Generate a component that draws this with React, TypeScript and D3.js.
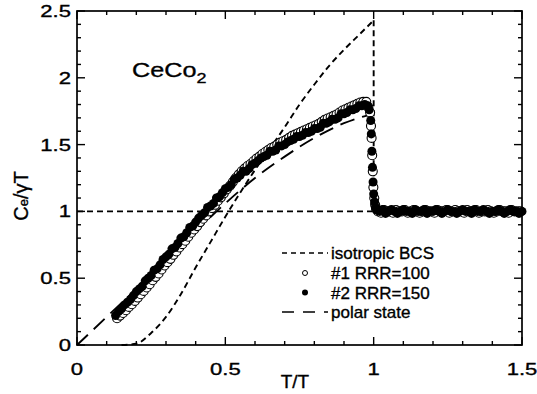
import React from "react";
import * as d3 from "d3";

// ---------- data ----------
// isotropic BCS curve  [T/Tc, Ce/γT]
const bcsCurve: [number, number][] = [
  [0.15, 0.0], [0.2, 0.01], [0.25, 0.09], [0.3, 0.21], [0.35, 0.38], [0.4, 0.58],
  [0.45, 0.77], [0.5, 0.96], [0.55, 1.14], [0.6, 1.31], [0.65, 1.47], [0.7, 1.63],
  [0.75, 1.8], [0.8, 1.95], [0.85, 2.09], [0.9, 2.21], [0.95, 2.32], [1.0, 2.43],
];
const bcsJump: [number, number][] = [[1.0, 2.43], [1.0, 1.0]];
const normalLine: [number, number][] = [[0, 1.0], [1.5, 1.0]];

// polar state curve
const polarCurve: [number, number][] = [
  [0, 0], [0.1, 0.21], [0.2, 0.42], [0.3, 0.63], [0.4, 0.85], [0.5, 1.06],
  [0.6, 1.25], [0.7, 1.41], [0.8, 1.55], [0.9, 1.66], [0.95, 1.7], [1.0, 1.73],
];

// #2 RRR=150 (filled)
const sample2: [number, number][] = [
  [0.13, 0.22], [0.14, 0.25], [0.15, 0.27], [0.16, 0.3], [0.17, 0.32], [0.18, 0.34], [0.19, 0.37],
  [0.2, 0.4], [0.21, 0.42], [0.22, 0.44], [0.23, 0.48], [0.24, 0.5], [0.25, 0.52], [0.26, 0.56],
  [0.27, 0.57], [0.28, 0.6], [0.29, 0.64], [0.3, 0.66], [0.31, 0.68], [0.32, 0.72], [0.33, 0.73],
  [0.34, 0.76], [0.35, 0.8], [0.36, 0.81], [0.37, 0.84], [0.38, 0.88], [0.39, 0.89], [0.4, 0.92],
  [0.41, 0.95], [0.42, 0.97], [0.43, 0.99], [0.44, 1.03], [0.45, 1.04], [0.46, 1.06], [0.47, 1.1],
  [0.48, 1.11], [0.49, 1.14], [0.5, 1.17], [0.51, 1.18], [0.52, 1.2], [0.53, 1.24], [0.54, 1.25],
  [0.55, 1.27], [0.56, 1.3], [0.57, 1.3], [0.58, 1.32], [0.59, 1.35], [0.6, 1.36], [0.61, 1.38],
  [0.62, 1.4], [0.63, 1.41], [0.64, 1.42], [0.65, 1.45], [0.66, 1.45], [0.67, 1.46], [0.68, 1.49],
  [0.69, 1.49], [0.7, 1.5], [0.71, 1.52], [0.72, 1.53], [0.73, 1.54], [0.74, 1.56], [0.75, 1.56],
  [0.76, 1.57], [0.77, 1.59], [0.78, 1.59], [0.79, 1.6], [0.8, 1.62], [0.81, 1.62], [0.82, 1.63],
  [0.83, 1.66], [0.84, 1.66], [0.85, 1.67], [0.86, 1.69], [0.87, 1.69], [0.88, 1.7], [0.89, 1.73],
  [0.9, 1.73], [0.91, 1.74], [0.92, 1.76], [0.93, 1.76], [0.94, 1.77], [0.95, 1.79], [0.96, 1.79],
  [0.97, 1.8], [0.98, 1.79],
  [0.985, 1.76], [0.99, 1.68], [0.992, 1.58], [0.994, 1.45], [0.996, 1.33], [0.998, 1.22],
  [1.0, 1.13], [1.003, 1.07], [1.006, 1.03], [1.01, 1.01],
  [1.02, 1.0], [1.03, 1.015], [1.04, 0.985], [1.05, 1.0], [1.06, 1.015], [1.07, 1.0], [1.08, 0.985],
  [1.09, 1.0], [1.1, 1.015], [1.11, 1.0], [1.12, 1.0], [1.13, 0.985], [1.14, 1.015], [1.15, 1.0],
  [1.16, 1.0], [1.17, 1.015], [1.18, 0.985], [1.19, 1.0], [1.2, 1.0], [1.21, 1.015], [1.22, 1.0],
  [1.23, 0.985], [1.24, 1.0], [1.25, 1.015], [1.26, 1.0], [1.27, 1.0], [1.28, 0.985], [1.29, 1.0],
  [1.3, 1.015], [1.31, 1.0], [1.32, 1.0], [1.33, 0.985], [1.34, 1.015], [1.35, 1.0], [1.36, 1.0],
  [1.37, 1.015], [1.38, 1.0], [1.39, 0.985], [1.4, 1.0], [1.41, 1.0], [1.42, 1.015], [1.43, 1.0],
  [1.44, 0.985], [1.45, 1.0], [1.46, 1.015], [1.47, 1.0], [1.48, 1.0], [1.49, 0.985], [1.5, 1.0],
];

// #1 RRR=100 (open)
const sample1: [number, number][] = [
  [0.135, 0.2], [0.145, 0.22], [0.155, 0.24], [0.165, 0.26], [0.175, 0.285], [0.185, 0.305],
  [0.195, 0.33], [0.205, 0.355], [0.215, 0.38], [0.225, 0.405], [0.235, 0.43], [0.245, 0.455],
  [0.255, 0.485], [0.265, 0.51], [0.275, 0.535], [0.285, 0.565], [0.295, 0.595], [0.305, 0.62],
  [0.315, 0.645], [0.325, 0.675], [0.335, 0.7], [0.345, 0.73], [0.355, 0.755], [0.365, 0.78],
  [0.375, 0.81], [0.385, 0.84], [0.395, 0.865], [0.405, 0.89], [0.415, 0.92], [0.425, 0.945],
  [0.435, 0.97], [0.445, 1.0], [0.455, 1.025], [0.465, 1.05], [0.475, 1.08], [0.485, 1.105],
  [0.495, 1.135], [0.505, 1.165], [0.515, 1.19], [0.525, 1.22], [0.535, 1.25], [0.545, 1.275],
  [0.555, 1.3], [0.565, 1.32], [0.575, 1.34], [0.585, 1.355], [0.595, 1.375], [0.605, 1.395],
  [0.615, 1.41], [0.625, 1.43], [0.635, 1.445], [0.645, 1.46], [0.655, 1.475], [0.665, 1.485],
  [0.675, 1.5], [0.685, 1.515], [0.695, 1.525], [0.705, 1.535], [0.715, 1.55], [0.725, 1.565],
  [0.735, 1.575], [0.745, 1.585], [0.755, 1.595], [0.765, 1.605], [0.775, 1.615], [0.785, 1.625],
  [0.795, 1.635], [0.805, 1.645], [0.815, 1.655], [0.825, 1.67], [0.835, 1.685], [0.845, 1.695],
  [0.855, 1.705], [0.865, 1.715], [0.875, 1.725], [0.885, 1.74], [0.895, 1.755], [0.905, 1.765],
  [0.915, 1.775], [0.925, 1.785], [0.935, 1.795], [0.945, 1.805], [0.955, 1.815], [0.965, 1.82],
  [0.975, 1.82],
  [0.982, 1.78], [0.988, 1.74], [0.991, 1.64], [0.993, 1.55], [0.995, 1.42], [0.997, 1.3],
  [0.999, 1.18], [1.002, 1.1], [1.005, 1.05], [1.008, 1.02],
  [1.015, 1.0], [1.025, 0.99], [1.035, 1.01], [1.045, 1.0], [1.055, 1.0], [1.065, 0.99], [1.075, 1.01],
  [1.085, 1.0], [1.095, 1.0], [1.105, 1.01], [1.115, 0.99], [1.125, 1.0], [1.135, 1.01], [1.145, 1.0],
  [1.155, 0.99], [1.165, 1.0], [1.175, 1.01], [1.185, 1.0], [1.195, 1.0], [1.205, 0.99], [1.215, 1.01],
  [1.225, 1.0], [1.235, 1.0], [1.245, 1.01], [1.255, 0.99], [1.265, 1.0], [1.275, 1.01], [1.285, 1.0],
  [1.295, 1.0], [1.305, 0.99], [1.315, 1.01], [1.325, 1.0], [1.335, 1.0], [1.345, 1.01], [1.355, 0.99],
  [1.365, 1.0], [1.375, 1.0], [1.385, 1.01], [1.395, 1.0], [1.405, 0.99], [1.415, 1.0], [1.425, 1.01],
  [1.435, 1.0], [1.445, 1.0], [1.455, 0.99], [1.465, 1.01], [1.475, 1.0], [1.485, 1.0], [1.495, 1.0],
];

const xTickLabels = ["0", "0.5", "1", "1.5"];
const xTickValues = [0, 0.5, 1, 1.5];
const yTickLabels = ["0", "0.5", "1", "1.5", "2", "2.5"];
const yTickValues = [0, 0.5, 1, 1.5, 2, 2.5];

const legendItems = ["isotropic BCS", "#1 RRR=100", "#2 RRR=150", "polar state"];

// ---------- layout ----------
const W = 537;
const H = 394;
const X0 = 77, X1 = 522, Y0 = 345, Y1 = 11;
const FONT = "'Liberation Sans', Arial, Helvetica, sans-serif";

export default function App() {
  const x = d3.scaleLinear().domain([0, 1.5]).range([X0, X1]);
  const y = d3.scaleLinear().domain([0, 2.5]).range([Y0, Y1]);
  const line = d3.line<[number, number]>().x((d) => x(d[0])).y((d) => y(d[1]));
  const smooth = d3.line<[number, number]>().x((d) => x(d[0])).y((d) => y(d[1])).curve(d3.curveMonotoneX);

  const xMinor = d3.range(0, 1.5001, 0.1);
  const yMinor = d3.range(0, 2.5001, 0.1);
  const isMajor = (v: number) => Math.abs(v * 2 - Math.round(v * 2)) < 1e-6;

  const shortDash = "6,4";
  const longDash = "15,8";
  const lw = 1.9;
  const R = 4.5;

  const ticks: JSX.Element[] = [];
  xMinor.forEach((v, i) => {
    const L = isMajor(v) ? 8 : 4;
    const px = x(v);
    ticks.push(<line key={`xb${i}`} x1={px} x2={px} y1={Y0} y2={Y0 - L} stroke="#000" strokeWidth={1.4} />);
    ticks.push(<line key={`xt${i}`} x1={px} x2={px} y1={Y1} y2={Y1 + L} stroke="#000" strokeWidth={1.4} />);
  });
  yMinor.forEach((v, i) => {
    const L = isMajor(v) ? 8 : 4;
    const py = y(v);
    ticks.push(<line key={`yl${i}`} x1={X0} x2={X0 + L} y1={py} y2={py} stroke="#000" strokeWidth={1.4} />);
    ticks.push(<line key={`yr${i}`} x1={X1} x2={X1 - L} y1={py} y2={py} stroke="#000" strokeWidth={1.4} />);
  });

  const legendX = 282;
  const legendTextX = 331;
  const legendY = [253, 273, 292.5, 312];
  const txt = { stroke: "#000", strokeWidth: 0.35 };

  return (
    <svg width={W} height={H} style={{ position: "absolute", left: 0, top: 0, background: "#fff" }}
      fontFamily={FONT}>
      <rect x={0} y={0} width={W} height={H} fill="#fff" />
      {/* reference lines */}
      <path d={line(normalLine) || ""} fill="none" stroke="#000" strokeWidth={lw} strokeDasharray={shortDash} />
      <path d={smooth(bcsCurve) || ""} fill="none" stroke="#000" strokeWidth={lw} strokeDasharray={shortDash} />
      <path d={line(bcsJump) || ""} fill="none" stroke="#000" strokeWidth={lw} strokeDasharray={shortDash} />
      <path d={smooth(polarCurve) || ""} fill="none" stroke="#000" strokeWidth={lw} strokeDasharray={longDash} />

      {/* data */}
      {sample1.map((d, i) => (
        <circle key={`o${i}`} cx={x(d[0])} cy={y(d[1])} r={R} fill="#fff" stroke="#000" strokeWidth={1.1} />
      ))}
      {sample2.map((d, i) => (
        <circle key={`f${i}`} cx={x(d[0])} cy={y(d[1])} r={R} fill="#000" />
      ))}

      {/* frame */}
      <rect x={X0} y={Y1} width={X1 - X0} height={Y0 - Y1} fill="none" stroke="#000" strokeWidth={1.7} />
      {ticks}

      {/* tick labels */}
      {yTickValues.map((v, i) => (
        <text key={`yl${i}`} transform={`translate(71,${y(v) + 6}) scale(1.3,1)`} textAnchor="end" fontSize={17} {...txt}>
          {yTickLabels[i]}
        </text>
      ))}
      {xTickValues.map((v, i) => (
        <text key={`xl${i}`} transform={`translate(${x(v)},${375}) scale(1.3,1)`} textAnchor="middle" fontSize={17} {...txt}>
          {xTickLabels[i]}
        </text>
      ))}

      {/* axis titles */}
      <text transform="translate(295,388) scale(1.05,1)" textAnchor="middle" fontSize={18} {...txt}>T/T</text>
      <text transform="translate(28,196) rotate(-90)" textAnchor="middle" fontSize={20} {...txt}>
        C<tspan fontSize={13}>e</tspan>/γT
      </text>

      {/* title */}
      <text transform="translate(132,77) scale(1.2,1)" fontSize={21} {...txt}>
        CeCo<tspan fontSize={15} dy={6}>2</tspan>
      </text>

      {/* legend */}
      <line x1={legendX} x2={legendX + 46} y1={legendY[0]} y2={legendY[0]} stroke="#000" strokeWidth={1.6} strokeDasharray="5,4" />
      <circle cx={305} cy={legendY[1]} r={2.5} fill="#fff" stroke="#000" strokeWidth={1} />
      <circle cx={305} cy={legendY[2]} r={3} fill="#000" />
      <line x1={legendX} x2={legendX + 46} y1={legendY[3]} y2={legendY[3]} stroke="#000" strokeWidth={1.6} strokeDasharray="12,9" />
      {legendItems.map((t, i) => (
        <text key={`lg${i}`} x={legendTextX} y={legendY[i] + 6} fontSize={17} {...txt}>{t}</text>
      ))}
    </svg>
  );
}
